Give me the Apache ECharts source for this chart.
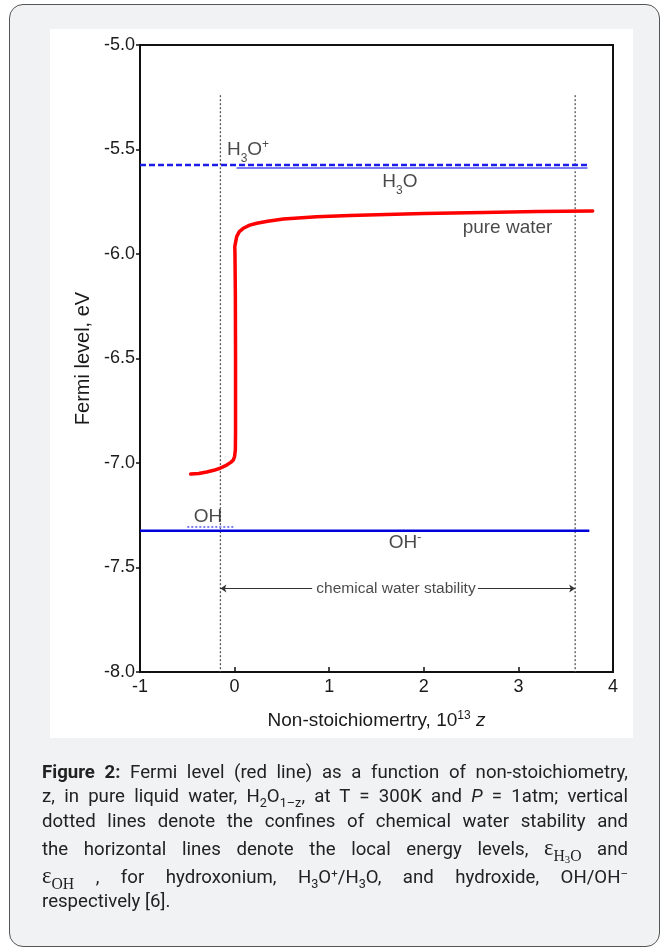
<!DOCTYPE html>
<html>
<head>
<meta charset="utf-8">
<script src="https://cdn.jsdelivr.net/npm/echarts@6/dist/echarts.min.js"></script>
<style>
html,body{margin:0;padding:0;background:#fff;}
#page{position:relative;width:669px;height:949px;overflow:hidden;background:#fff;}
#frame{position:absolute;left:9px;top:4px;width:651px;height:943px;border:1px solid #555;border-radius:14px;background:#f1f2f4;box-sizing:border-box;}
#panel{position:absolute;left:50px;top:29px;width:583px;height:709px;background:#fff;}
#chart{position:absolute;left:0;top:0;width:669px;height:949px;}
#caption{position:absolute;left:42px;top:0;width:598px;font-size:19px;color:#222;font-family:Roboto,"Liberation Sans",sans-serif;transform:scaleX(0.98);transform-origin:0 0;}
.ln{position:absolute;left:0;width:598px;line-height:24px;height:24px;text-align:justify;text-align-last:justify;}
.ln.last{text-align-last:left;}
.ln sub{font-size:68%;vertical-align:-0.35em;line-height:0;}
.ln sup{font-size:62%;vertical-align:0.55em;line-height:0;}
.eps{font-family:"Liberation Serif","DejaVu Serif",serif;font-size:23px;}
.eps sub{font-size:16px;vertical-align:-0.35em;}
.eps sub sub{font-size:11px;vertical-align:-0.2em;}
</style>
</head>
<body>
<div id="page">
  <div id="frame"></div>
  <div id="panel"></div>
  <div id="chart"></div>
  <div id="caption">
    <div class="ln" style="top:760px"><b>Figure 2:</b> Fermi level (red line) as a function of non-stoichiometry,</div>
    <div class="ln" style="top:784px">z, in pure liquid water, H<sub>2</sub>O<sub>1–z</sub>, at T = 300K and <i>P</i> = 1atm; vertical</div>
    <div class="ln" style="top:809px">dotted lines denote the confines of chemical water stability and</div>
    <div class="ln" style="top:836px">the horizontal lines denote the local energy levels, <span class="eps">ε<sub>H<sub>3</sub>O</sub></span> and</div>
    <div class="ln" style="top:864px"><span class="eps">ε<sub>OH</sub></span> , for hydroxonium, H<sub>3</sub>O<sup>+</sup>/H<sub>3</sub>O, and hydroxide, OH/OH<sup>–</sup></div>
    <div class="ln last" style="top:889px">respectively [6].</div>
  </div>
</div>
<script>
// ---- data ----
const xTicks = [-1, 0, 1, 2, 3, 4];
const yTicks = [-8.0, -7.5, -7.0, -6.5, -6.0, -5.5, -5.0];

// Fermi level (red line)
const fermiZ = [-0.464, -0.38, -0.295, -0.22, -0.154, -0.084, -0.04, -0.014, 0.0, 0.008, 0.01, 0.01, 0.008, 0.004, 0.002, 0.022, 0.05, 0.092, 0.16, 0.234, 0.35, 0.515, 0.868, 1.22, 1.6, 2.0, 2.63, 3.2, 3.785];
const fermiE = [-7.053, -7.050, -7.043, -7.035, -7.025, -7.010, -6.997, -6.986, -6.968, -6.938, -6.85, -6.5, -6.2, -6.0, -5.965, -5.917, -5.893, -5.877, -5.862, -5.853, -5.843, -5.833, -5.822, -5.816, -5.811, -5.806, -5.801, -5.797, -5.794];

// local energy levels
const h3oPlusZ = [-1, 3.73];   const h3oPlusE = [-5.574, -5.574];
const h3oZ = [0.02, 3.73];     const h3oE = [-5.588, -5.588];
const ohMinusZ = [-1, 3.75];   const ohMinusE = [-7.324, -7.324];
const ohZ = [-0.5, 0.0];       const ohE = [-7.306, -7.306];

// chemical water stability confines
const stabLeftZ = [-0.15, -0.15];  const stabLeftE = [-5.24, -8.0];
const stabRightZ = [3.6, 3.6];     const stabRightE = [-5.24, -8.0];
const stabArrowE = -7.6;

const zip = (a, b) => a.map((v, i) => [v, b[i]]);

// ---- chart ----
const FONT = '"Liberation Sans", Arial, Helvetica, sans-serif';
const chart = echarts.init(document.getElementById('chart'), null, {renderer: 'canvas'});

const TXT = '#1a1a1a';
const labelRich = {
  n: {fontSize: 19, fontFamily: FONT, color: TXT, lineHeight: 22, verticalAlign: 'middle'},
  sub: {fontSize: 12, fontFamily: FONT, color: TXT, lineHeight: 22, verticalAlign: 'bottom', padding: [0, 0, -4, 0]},
  sup: {fontSize: 12, fontFamily: FONT, color: TXT, lineHeight: 22, verticalAlign: 'top'},
  c: {fontSize: 15.5, fontFamily: FONT, color: TXT, backgroundColor: '#fff', padding: [0, 2, 0, 2]}
};
const annotations = [
  {value: [0.142, -5.502], text: '{n|H}{sub|3}{n|O}{sup|+}'},
  {value: [1.748, -5.655], text: '{n|H}{sub|3}{n|O}'},
  {value: [2.885, -5.876], text: '{n|pure water}'},
  {value: [-0.281, -7.258], text: '{n|OH}'},
  {value: [1.80, -7.383], text: '{n|OH}{sup|-}'},
  {value: [1.706, stabArrowE], text: '{c|chemical water stability}'}
];

const option = {
  animation: false,
  backgroundColor: 'transparent',
  grid: {left: 140, top: 45, width: 473, height: 627, show: true, borderColor: '#111', borderWidth: 2, backgroundColor: 'transparent'},
  xAxis: {
    type: 'value', min: xTicks[0], max: xTicks[xTicks.length - 1], interval: 1,
    splitLine: {show: false},
    axisLine: {show: true, onZero: false, lineStyle: {color: '#111', width: 2}},
    axisTick: {show: true, inside: true, length: 5, lineStyle: {color: '#111', width: 1.5}},
    axisLabel: {margin: 6, color: TXT, fontSize: 18, fontFamily: FONT, formatter: v => String(v)},
    name: '{a|Non-stoichiomertry, 10}{s|13}{z| z}',
    nameLocation: 'middle', nameGap: 38,
    nameTextStyle: {
      rich: {
        a: {fontSize: 19, fontFamily: FONT, color: TXT, lineHeight: 22, verticalAlign: 'middle'},
        s: {fontSize: 12, fontFamily: FONT, color: TXT, lineHeight: 22, verticalAlign: 'top'},
        z: {fontSize: 19, fontFamily: FONT, fontStyle: 'italic', color: TXT, lineHeight: 22, verticalAlign: 'middle'}
      }
    }
  },
  yAxis: {
    type: 'value', min: yTicks[0], max: yTicks[yTicks.length - 1], interval: 0.5,
    splitLine: {show: false},
    axisLine: {show: true, onZero: false, lineStyle: {color: '#111', width: 2}},
    axisTick: {show: true, inside: false, length: 4, lineStyle: {color: '#111', width: 1.5}},
    axisLabel: {margin: 5, color: TXT, fontSize: 18, fontFamily: FONT, formatter: v => v.toFixed(1)},
    name: 'Fermi level, eV', nameLocation: 'middle', nameGap: 43,
    nameTextStyle: {fontSize: 20, fontFamily: FONT, color: TXT}
  },
  series: [
    {type: 'line', name: 'stabLeft', data: zip(stabLeftZ, stabLeftE), showSymbol: false, silent: true,
     lineStyle: {color: '#555', width: 1.3, type: [2, 2]}, z: 1},
    {type: 'line', name: 'stabRight', data: zip(stabRightZ, stabRightE), showSymbol: false, silent: true,
     lineStyle: {color: '#555', width: 1.3, type: [2, 2]}, z: 1},
    {type: 'line', name: 'H3O+', data: zip(h3oPlusZ, h3oPlusE), showSymbol: false,
     lineStyle: {color: '#1c1ce8', width: 2.5, type: [6, 3]}, z: 3},
    {type: 'line', name: 'H3O', data: zip(h3oZ, h3oE), showSymbol: false,
     lineStyle: {color: '#7c7cf2', width: 2}, z: 2},
    {type: 'line', name: 'OH-', data: zip(ohMinusZ, ohMinusE), showSymbol: false,
     lineStyle: {color: '#0000dd', width: 2.6}, z: 3},
    {type: 'line', name: 'OH', data: zip(ohZ, ohE), showSymbol: false,
     lineStyle: {color: '#7f7fee', width: 2, type: [2, 2]}, z: 2},
    {type: 'line', name: 'pure water', data: zip(fermiZ, fermiE), showSymbol: false,
     lineStyle: {color: '#ff0000', width: 3.5, cap: 'round', join: 'round'}, z: 5},
    {type: 'lines', coordinateSystem: 'cartesian2d', polyline: false,
     symbol: ['none', 'arrow'], symbolSize: 6, silent: true,
     lineStyle: {color: '#333', width: 1, opacity: 1},
     data: [
       {coords: [[0.82, stabArrowE], [stabLeftZ[0], stabArrowE]]},
       {coords: [[2.57, stabArrowE], [stabRightZ[0], stabArrowE]]}
     ], z: 4},
    {type: 'scatter', name: 'labels', symbolSize: 1, silent: true,
     itemStyle: {color: 'rgba(0,0,0,0)'},
     label: {show: true, position: 'inside', rich: labelRich,
             formatter: p => annotations[p.dataIndex].text},
     data: annotations.map(a => ({value: a.value})), z: 10}
  ]
};
chart.setOption(option);
</script>
</body>
</html>
